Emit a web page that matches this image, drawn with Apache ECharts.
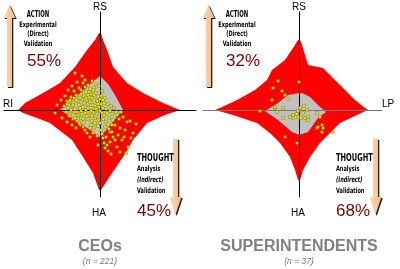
<!DOCTYPE html>
<html>
<head>
<meta charset="utf-8">
<script src="https://cdn.jsdelivr.net/npm/echarts@6/dist/echarts.min.js"></script>
<style>
  html, body { margin: 0; padding: 0; background: #fff; }
  #chart { width: 400px; height: 269px; }
</style>
</head>
<body>
<div id="chart"></div>
<script>
// panel labels
const panelTitles = ['CEOs', 'SUPERINTENDENTS'];
const panelCounts = ['(n = 221)', '(n = 37)'];
const actionPct = ['55%', '32%'];
const thoughtPct = ['45%', '68%'];

// outline of the red star, [x, y] with y going up, centre at 0,0
const starCeo = [
  [1,77],[3,70],[7,60],[13,43],[27,27],[43,17],[63,7],[80,0],
  [65,-5],[47,-13],[33,-30],[23,-47],[12,-63],[1,-80],[-1,-80],
  [-7,-63],[-17,-47],[-28,-30],[-50,-13],[-63,-8],[-77,-3],[-82,0],
  [-75,7],[-57,17],[-40,27],[-25,43],[-13,60],[-5,70],[-1,77]
];
const starSup = [
  [1,70],[3,65],[6,55],[9,45],[24,42],[31,35],[46,20],[56,10],[66,2],[69,0],
  [58,-5],[41,-13],[31,-23],[21,-33],[11,-47],[4,-60],[1,-70],[-1,-70],
  [-4,-60],[-9,-47],[-19,-33],[-29,-23],[-42,-13],[-66,-5],[-84,0],
  [-77,3],[-62,10],[-44,20],[-32,30],[-27,40],[-14,50],[-4,65],[-1,70]
];

// grey inner diamond
const coreCeo = [
  [0,34],[8,26],[15,15],[22,2],[23,0],[16,-8],[8,-18],[0,-27],
  [-10,-20],[-22,-12],[-38,-1],[-40,0],[-28,10],[-15,21],[-5,30]
];
const coreSup = [
  [0,17],[3,17],[11,13],[21,3],[27,-2],[19,-8],[9,-22],[0,-25],
  [-7,-22],[-21,-10],[-34,-1],[-21,7],[-11,15]
];

// respondents
const dotsCeo = [
  [-25,37],[-18,34],[-15,30],[-23,28],[-17,27],[-12,25],[-28,24],[-21,22],[-32,20],[-26,19],
  [-8,29],[-4,26],[-10,21],[-35,14],[-39,10],[-33,9],[-43,5],[-45,-3],[-38,-8],[-33,-12],
  [-28,-15],[-24,-18],[-13,-23],[-10,-27],[-15,-20],
  [-6,22],[-1,24],[2,19],[-14,18],[-19,16],[-24,15],[-29,13],[-9,16],[-4,17],[1,14],[5,12],
  [-31,8],[-27,7],[-22,9],[-18,11],[-13,10],[-8,12],[-3,9],[0,11],[4,7],[8,6],[11,4],
  [-36,4],[-32,2],[-28,4],[-25,1],[-21,5],[-17,3],[-12,6],[-9,2],[-5,4],[-1,3],[3,2],[6,1],[10,-1],[14,2],
  [-34,-2],[-30,-4],[-26,-2],[-22,-5],[-19,-1],[-15,-3],[-11,-5],[-7,-2],[-3,-4],[0,-1],[4,-5],[7,-3],[12,-4],[16,-2],
  [-27,-9],[-23,-11],[-19,-8],[-16,-12],[-12,-9],[-8,-11],[-5,-8],[-1,-10],[3,-9],[6,-12],[9,-8],[13,-10],
  [-20,-15],[-17,-17],[-9,-15],[-6,-18],[-2,-16],[1,-20],[5,-17],[9,-19],[12,-15],
  [-7,-23],[-3,-26],[2,-24],[6,-27],[10,-22],
  [-20,12],[-16,14],[-11,13],[-6,10],[-2,13],[-24,10],[-29,0],[-24,-6],[-14,0],[-10,8],
  [-7,5],[-3,0],[1,6],[-16,7],[-20,2],[-13,-6],[-9,-1],[-5,-13],[-18,-4],[-27,5],
  [-31,-6],[-11,18],[-7,20],[-15,23],[-2,6],[2,-3],[-4,-6],[-8,-6],[-12,2],[-23,-2],
  [-19,20],[-26,12],[-30,10],[-14,12],[-4,1],[-6,15],[3,10],[-17,-9],[-21,-13],[8,-14],
  [0,-13],[-10,-18],[-12,15],[-25,-8],[-33,6],
  [23,-7],[27,-12],[33,-23],[30,-11],[25,-20],[20,-18],[18,-25],[15,-15],[12,-22],[15,-30],
  [10,-32],[7,-35],[17,-37],[28,-37],[3,-28],[5,-38],[8,-41],[22,-30],[19,-9],[24,-27],
  [13,-27],[36,-14],[11,-44],[26,-43],[4,-33],[-2,-35],[20,-42],[31,-28],[17,-5],[21,-2]
];
const dotsSup = [
  [-21,29],[-26,22],[-17,19],[-14,15],[-11,11],[-27,10],[-39,-1],[-24,2],[-16,2],[-22,-2],
  [-1,-1],[1,2],[-2,-4],[-6,-5],[-9,-7],[-6,-8],[-1,-7],[2,-8],[8,0],[9,-7],
  [6,-8],[9,-10],[4,-3],[18,-3],[21,-7],[18,-18],[23,-15],[24,-18],[23,-22],[34,-22],
  [-14,-27],[-2,-33],[0,28],[-16,-8],[-24,3],[19,-17],[5,4]
];

const chart = echarts.init(document.getElementById('chart'), null, { renderer: 'canvas' });

// draws the whole outline once, through the axis scales
function polygon(points, color) {
  return function (params, api) {
    if (params.dataIndex !== 0) return null;
    return {
      type: 'polygon',
      shape: { points: points.map(p => api.coord(p)) },
      style: { fill: color }
    };
  };
}

function axis(min, max, idx, color) {
  return {
    type: 'value', gridIndex: idx, min: min, max: max, z: 3,
    axisLine: { show: true, onZero: true, lineStyle: { color: color, width: 1 } },
    axisTick: { show: false }, axisLabel: { show: false }, splitLine: { show: false }
  };
}

function shapeSeries(data, color, idx, z) {
  return { type: 'custom', xAxisIndex: idx, yAxisIndex: idx, data: data, z: z,
    renderItem: polygon(data, color), silent: true };
}

function dotSeries(data, idx) {
  return { type: 'scatter', xAxisIndex: idx, yAxisIndex: idx, data: data, z: 5,
    symbol: 'rect', symbolSize: 2.6,
    itemStyle: { color: '#ffff00', borderColor: '#6b6b00', borderWidth: 0.5, opacity: 1 } };
}

// arrow: tip, head base, tail end (y values), works both ways
function arrow(cx, tip, base, end) {
  const sw = 2.6, hw = 6;
  const pts = [[cx, tip], [cx + hw, base], [cx + sw, base], [cx + sw, end],
    [cx - sw, end], [cx - sw, base], [cx - hw, base]];
  return [
    { type: 'polygon', shape: { points: pts.map(p => [p[0] + 1.2, p[1] + 1]) },
      style: { fill: '#111' }, z: 10 },
    { type: 'polygon', shape: { points: pts },
      style: { fill: new echarts.graphic.LinearGradient(0, 0, 1, 0, [
        { offset: 0, color: '#fcd9b8' }, { offset: 1, color: '#f3b985' }]) }, z: 11 }
  ];
}

// sx squeezes the text sideways (condensed look)
function txt(text, x, y, font, fill, align, sx) {
  return { type: 'text', z: 12, x: x, y: y, scaleX: sx || 1,
    style: { text: text, x: 0, y: 0, font: font,
      fill: fill || '#000', align: align || 'center', verticalAlign: 'middle' } };
}

const narrow = '"DejaVu Sans Condensed", "Liberation Sans", sans-serif';
const small = 'bold 7.5px ' + narrow;
const big = '17px "Liberation Sans", Arial, sans-serif';
const lab = '10px "Liberation Sans", Arial, sans-serif';
const sq = 0.74;

let graphics = [];
[0, 1].forEach(i => {
  const ox = i * 199;
  graphics = graphics.concat(arrow(9.5 + ox, 5, 18, 87));
  graphics = graphics.concat(arrow(175.5 + ox + i, 215, 197, 139));
  graphics.push(
    txt('ACTION', 38 + ox, 15, 'bold 8px ' + narrow, '#000', 'center', sq),
    txt('Experimental', 38 + ox, 25, small, '#000', 'center', sq),
    txt('(Direct)', 38 + ox, 34, small, '#000', 'center', sq),
    txt('Validation', 38 + ox, 44, small, '#000', 'center', sq),
    txt(actionPct[i], 44 + ox, 61, big, '#7d0000'),
    txt('THOUGHT', 137 + ox, 158, 'bold 10px ' + narrow, '#000', 'left', sq),
    txt('Analysis', 137 + ox, 169, small, '#000', 'left', sq),
    txt('(Indirect)', 137 + ox, 180, 'italic bold 7.5px ' + narrow, '#000', 'left', sq),
    txt('Validation', 137 + ox, 191, small, '#000', 'left', sq),
    txt(thoughtPct[i], 137 + ox, 211, big, '#7d0000', 'left'),
    txt('RS', 100 + ox, 7, lab),
    txt('HA', 99 + ox, 213, lab),
    txt(panelTitles[i], 100 + ox, 247, 'bold 16px "Liberation Sans", Arial, sans-serif', '#808080'),
    txt(panelCounts[i], 100 + ox, 262, 'italic 8.5px "Liberation Sans", Arial, sans-serif', '#777')
  );
});
graphics.push(txt('RI', 3, 104, lab, '#000', 'left'));
graphics.push(txt('LP', 382, 104, lab, '#000', 'left'));

chart.setOption({
  animation: false,
  backgroundColor: '#fff',
  grid: [
    { left: 4, width: 192, top: 12, height: 185 },
    { left: 203, width: 179, top: 12, height: 185 }
  ],
  xAxis: [axis(-96, 96, 0, '#000'), axis(-96, 83, 1, '#777')],
  yAxis: [axis(-87, 98, 0, '#000'), axis(-87, 98, 1, '#000')],
  series: [
    shapeSeries(starCeo, '#ff0000', 0, 1),
    shapeSeries(coreCeo, '#c0c0c0', 0, 2),
    dotSeries(dotsCeo, 0),
    shapeSeries(starSup, '#ff0000', 1, 1),
    shapeSeries(coreSup, '#c0c0c0', 1, 2),
    dotSeries(dotsSup, 1)
  ],
  graphic: graphics
});
</script>
</body>
</html>
